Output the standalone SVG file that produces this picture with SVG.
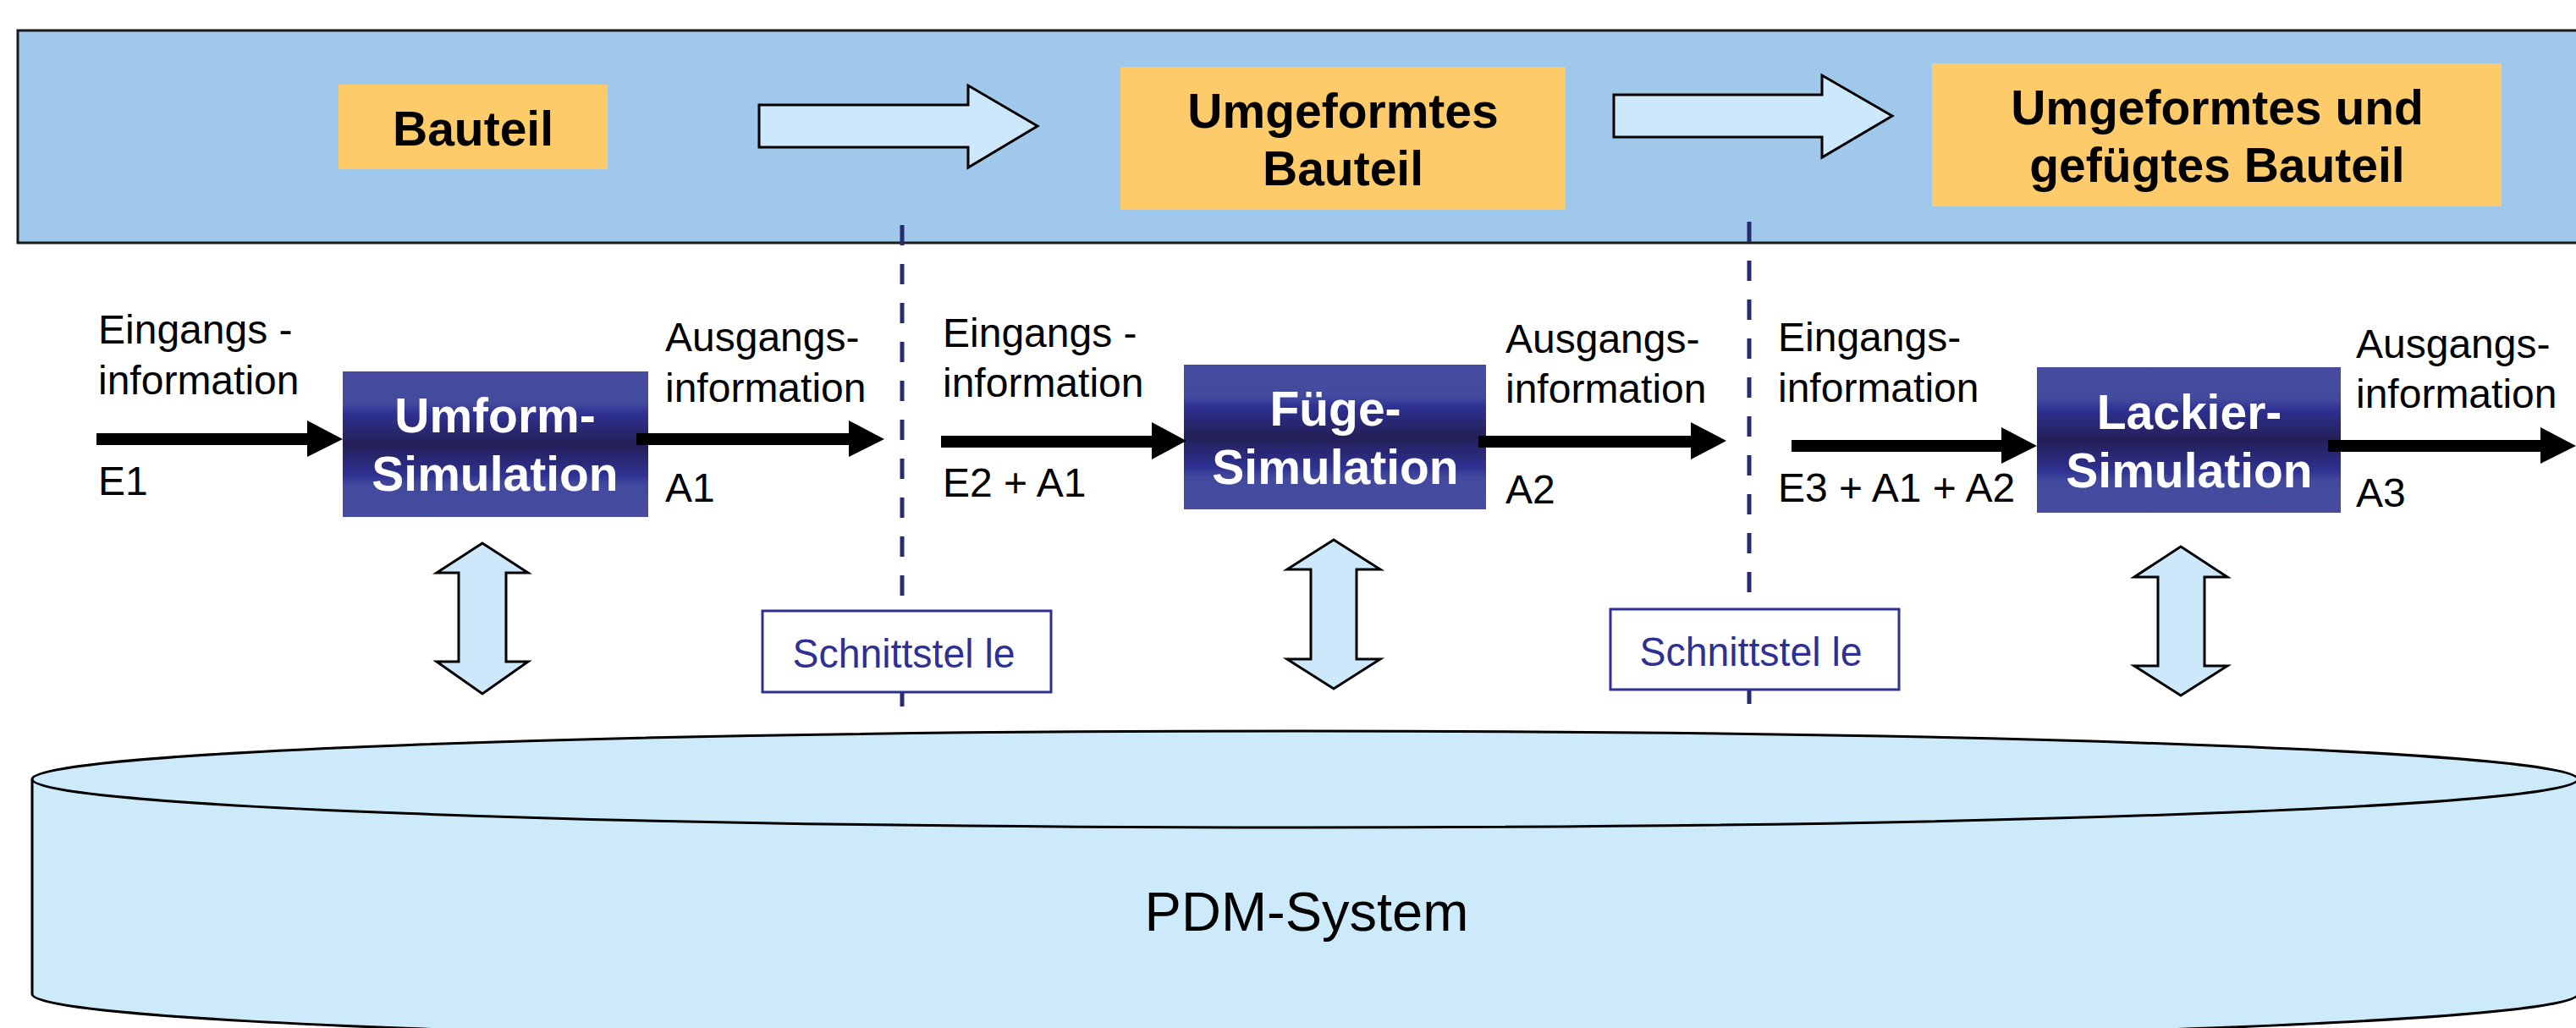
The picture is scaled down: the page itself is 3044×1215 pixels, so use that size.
<svg xmlns="http://www.w3.org/2000/svg" width="3044" height="1215" viewBox="0 0 3044 1215">
<defs>
<style>
.lbl{font-family:"Liberation Sans",Arial,sans-serif;font-size:48px;fill:#000}
.bold{font-family:"Liberation Sans",Arial,sans-serif;font-weight:bold;font-size:57px;text-anchor:middle}
.orange{fill:#FECB6A}
.bigarrow{fill:#CCE8FA;stroke:#000;stroke-width:3;stroke-linejoin:miter}
.dbl{fill:#CCE8FA;stroke:#000;stroke-width:3;stroke-linejoin:miter}
.blk{fill:#000}
.dash{stroke:#262B72;stroke-width:5;stroke-dasharray:24 22;fill:none}
.iface{fill:#fff;stroke:#2E3192;stroke-width:3}
.ifaceTxt{font-family:"Liberation Sans",Arial,sans-serif;font-size:48px;fill:#2E3192;text-anchor:middle}
</style>
<linearGradient id="simGrad" x1="0" y1="0" x2="0" y2="1">
<stop offset="0" stop-color="#474C9F"/>
<stop offset="0.22" stop-color="#434A9D"/>
<stop offset="0.29" stop-color="#2E3192"/>
<stop offset="0.5" stop-color="#241F57"/>
<stop offset="0.71" stop-color="#2E3192"/>
<stop offset="0.78" stop-color="#434A9D"/>
<stop offset="1" stop-color="#474C9F"/>
</linearGradient>
</defs>
<rect width="3044" height="1215" fill="#fff"/>

<g id="band">
<rect x="21" y="36" width="3040" height="251" fill="#9FC8EA" stroke="#1a1a1a" stroke-width="3"/>
</g>

<g id="pdm-system">
<path d="M38,921 L38,1175 A1504,57 0 0 0 3046,1175 L3046,921 A1504,57 0 0 0 38,921 Z" fill="#CDEAFB" stroke="#000" stroke-width="3"/>
<path d="M38,921 A1504,57 0 0 0 3046,921" fill="none" stroke="#000" stroke-width="3"/>
<text x="1544" y="1100" style="font-family:'Liberation Sans',Arial,sans-serif;font-size:65px;text-anchor:middle;fill:#000">PDM-System</text>
</g>

<g id="bauteil">
<rect class="orange" x="400" y="100" width="318" height="100"/>
<text class="bold" x="559" y="172">Bauteil</text>
</g>

<g id="umgeformtes-bauteil">
<rect class="orange" x="1324" y="79" width="526" height="169"/>
<text class="bold" x="1587" y="151">Umgeformtes</text>
<text class="bold" x="1587" y="219">Bauteil</text>
</g>

<g id="umgeformtes-gefuegtes-bauteil">
<rect class="orange" x="2283" y="75" width="673" height="169"/>
<text class="bold" x="2620" y="147">Umgeformtes und</text>
<text class="bold" x="2620" y="215">gefügtes Bauteil</text>
</g>

<g id="connectors">
<polygon class="bigarrow" points="897,124 1144,124 1144,101 1226,149 1144,198 1144,174 897,174"/>
<polygon class="bigarrow" points="1907,112 2153,112 2153,89 2236,137 2153,186 2153,162 1907,162"/>
<line class="dash" x1="1066" y1="266" x2="1066" y2="835"/>
<line class="dash" x1="2067" y1="262" x2="2067" y2="832"/>
<polygon class="dbl" points="570,642 624,677 598,677 598,782 624,782 570,820 516,782 542,782 542,677 516,677"/>
<polygon class="dbl" points="1576,638 1631,673 1603,673 1603,779 1631,779 1576,814 1521,779 1549,779 1549,673 1521,673"/>
<polygon class="dbl" points="2577,646 2632,682 2605,682 2605,787 2632,787 2577,822 2522,787 2550,787 2550,682 2522,682"/>
</g>

<g id="schnittstelle-1">
<rect class="iface" x="901" y="722" width="341" height="96"/>
<text class="ifaceTxt" x="1068" y="789" textLength="263" lengthAdjust="spacingAndGlyphs">Schnittstel le</text>
</g>
<g id="schnittstelle-2">
<rect class="iface" x="1903" y="720" width="341" height="95"/>
<text class="ifaceTxt" x="2069" y="787" textLength="263" lengthAdjust="spacingAndGlyphs">Schnittstel le</text>
</g>

<g id="umform-simulation">
<rect x="405" y="439" width="361" height="172" fill="url(#simGrad)"/>
<text class="bold" x="585" y="511" fill="#fff">Umform-</text>
<text class="bold" x="585" y="580" fill="#fff">Simulation</text>
</g>
<g id="fuege-simulation">
<rect x="1399" y="431" width="357" height="171" fill="url(#simGrad)"/>
<text class="bold" x="1578" y="503" fill="#fff">Füge-</text>
<text class="bold" x="1578" y="572" fill="#fff">Simulation</text>
</g>
<g id="lackier-simulation">
<rect x="2407" y="434" width="359" height="172" fill="url(#simGrad)"/>
<text class="bold" x="2587" y="507" fill="#fff">Lackier-</text>
<text class="bold" x="2587" y="576" fill="#fff">Simulation</text>
</g>

<g id="flow-arrows">
<polygon class="blk" points="114,512 363,512 363,497 405,519 363,540 363,526 114,526"/>
<polygon class="blk" points="752,512 1003,512 1003,497 1045,519 1003,540 1003,526 752,526"/>
<polygon class="blk" points="1112,515 1361,515 1361,499 1402,521 1361,543 1361,529 1112,529"/>
<polygon class="blk" points="1747,515 1998,515 1998,499 2040,521 1998,543 1998,529 1747,529"/>
<polygon class="blk" points="2117,520 2365,520 2365,505 2407,527 2365,548 2365,534 2117,534"/>
<polygon class="blk" points="2751,520 3002,520 3002,505 3044,527 3002,548 3002,534 2751,534"/>
</g>

<g id="labels">
<text class="lbl" x="116" y="406">Eingangs -</text>
<text class="lbl" x="116" y="466">information</text>
<text class="lbl" x="116" y="585">E1</text>
<text class="lbl" x="786" y="415">Ausgangs-</text>
<text class="lbl" x="786" y="475">information</text>
<text class="lbl" x="786" y="593">A1</text>
<text class="lbl" x="1114" y="410">Eingangs -</text>
<text class="lbl" x="1114" y="469">information</text>
<text class="lbl" x="1114" y="587">E2 + A1</text>
<text class="lbl" x="1779" y="417">Ausgangs-</text>
<text class="lbl" x="1779" y="476">information</text>
<text class="lbl" x="1779" y="595">A2</text>
<text class="lbl" x="2101" y="415">Eingangs-</text>
<text class="lbl" x="2101" y="475">information</text>
<text class="lbl" x="2101" y="593">E3 + A1 + A2</text>
<text class="lbl" x="2784" y="423">Ausgangs-</text>
<text class="lbl" x="2784" y="482">information</text>
<text class="lbl" x="2784" y="599">A3</text>
</g>
</svg>
